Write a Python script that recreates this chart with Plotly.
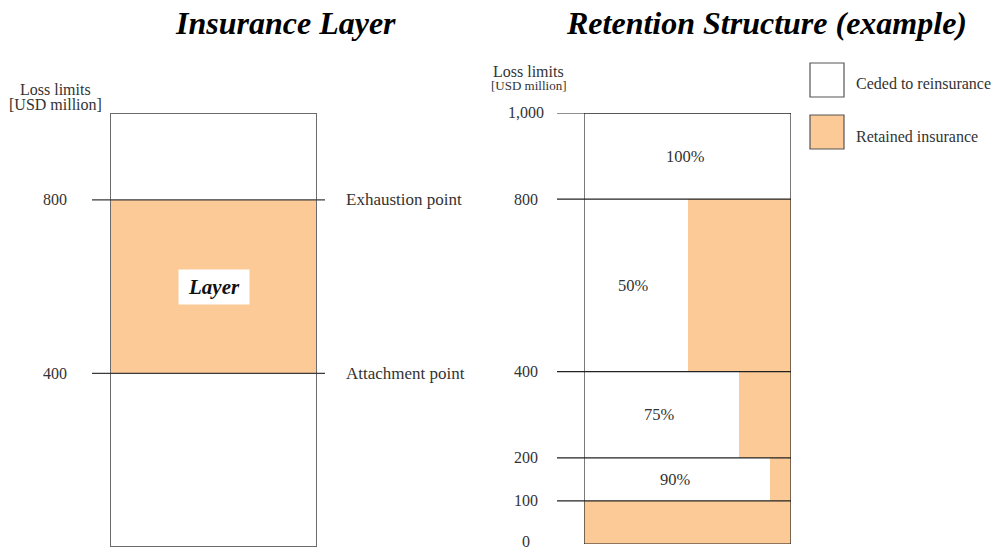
import plotly.graph_objects as go

# ---------------- data ----------------
layer_limits = [0, 1000]            # full range of loss limits (USD million)
layer_attach = 400                  # attachment point
layer_exhaust = 800                 # exhaustion point
left_ticks = [400, 800]
left_tick_text = ["400", "800"]
left_point_labels = ["Attachment point", "Exhaustion point"]

band_low = [0, 100, 200, 400, 800]
band_high = [100, 200, 400, 800, 1000]
ceded_share = [0.0, 0.90, 0.75, 0.50, 1.00]
ceded_labels = ["", "90%", "75%", "50%", "100%"]
right_ticks = [0, 100, 200, 400, 800, 1000]
right_tick_text = ["0", "100", "200", "400", "800", "1,000"]

legend_names = ["Ceded to reinsurance", "Retained insurance"]
titles = ["Insurance Layer", "Retention Structure (example)"]

# ---------------- style ----------------
ORANGE = "#FBCA96"
FONT = "Liberation Serif"
TXT = "#333333"
OFF = 8                      # default page body margin
W, H = 999 - OFF, 548 - OFF

def px(x):
    return (x - OFF) / W

def py(y):
    return 1 - (y - OFF) / H

fig = go.Figure()

# Left panel: layer bar
fig.add_trace(go.Bar(
    x=[0.5], y=[layer_exhaust - layer_attach], base=[layer_attach], width=[1.0],
    marker=dict(color=ORANGE, line=dict(width=0)),
    xaxis="x", yaxis="y", showlegend=False, hoverinfo="skip"))

# Right panel: ceded (white) and retained (orange) per band
mids = [(lo + hi) / 2 for lo, hi in zip(band_low, band_high)]
heights = [hi - lo for lo, hi in zip(band_low, band_high)]
retained = [1 - c for c in ceded_share]
fig.add_trace(go.Bar(
    orientation="h", y=mids, x=ceded_share, base=[0] * len(mids), width=heights,
    marker=dict(color="white", line=dict(width=0)),
    xaxis="x2", yaxis="y2", showlegend=False, hoverinfo="skip"))
fig.add_trace(go.Bar(
    orientation="h", y=mids, x=retained, base=ceded_share, width=heights,
    marker=dict(color=ORANGE, line=dict(width=0)),
    xaxis="x2", yaxis="y2", showlegend=False, hoverinfo="skip"))

shapes = []
annotations = []

def ann(**kw):
    d = dict(showarrow=False, xanchor="center", yanchor="middle")
    d.update(kw)
    annotations.append(d)

# Left panel outline and lines
shapes.append(dict(type="rect", xref="x", yref="y", x0=0, x1=1,
                   y0=layer_limits[0], y1=layer_limits[1],
                   line=dict(color="#6b6b6b", width=2), layer="above"))
for v, t, lab in zip(left_ticks, left_tick_text, left_point_labels):
    shapes.append(dict(type="line", xref="paper", yref="y", x0=px(92), x1=px(325),
                       y0=v, y1=v, line=dict(color="#3a3a3a", width=1.3), layer="above"))
    ann(xref="paper", yref="y", x=px(55), y=v, text=t,
        font=dict(family=FONT, size=16, color=TXT))
    ann(xref="paper", yref="y", x=px(344), y=v, text=lab, xanchor="left",
        font=dict(family=FONT, size=17, color=TXT))

ann(xref="x", yref="y", x=0.5, y=(layer_attach + layer_exhaust) / 2,
    text="<b><i>Layer</i></b>", bgcolor="white", borderpad=4, width=62, height=26,
    font=dict(family=FONT, size=21, color="#111111"))

# Right panel outline and lines
shapes.append(dict(type="rect", xref="x2", yref="y2", x0=0, x1=1,
                   y0=band_low[0], y1=band_high[-1],
                   line=dict(color="#222222", width=1.2), layer="above"))
for v in band_low[1:] + [band_high[-1]]:
    shapes.append(dict(type="line", xref="paper", yref="y2", x0=px(557), x1=px(791),
                       y0=v, y1=v, line=dict(color="#222222", width=1.2), layer="above"))
for v, t in zip(right_ticks, right_tick_text):
    ann(xref="paper", yref="y2", x=px(526), y=v, text=t, yshift=(3 if v == 0 else 0),
        font=dict(family=FONT, size=16, color=TXT))
for m, c, lab in zip(mids, ceded_share, ceded_labels):
    if lab:
        ann(xref="x2", yref="y2", x=c / 2 - 0.01, y=m, text=lab,
            font=dict(family=FONT, size=16.5, color=TXT))

# Axis captions
ann(xref="paper", yref="paper", x=px(55), y=py(89), text="Loss limits",
    font=dict(family=FONT, size=16, color=TXT))
ann(xref="paper", yref="paper", x=px(55), y=py(105), text="[USD million]",
    font=dict(family=FONT, size=16, color=TXT))
ann(xref="paper", yref="paper", x=px(528), y=py(71), text="Loss limits",
    font=dict(family=FONT, size=16, color=TXT))
ann(xref="paper", yref="paper", x=px(528), y=py(86), text="[USD million]",
    font=dict(family=FONT, size=13, color=TXT))

# Titles
ann(xref="paper", yref="paper", x=px(285), y=py(23), text=f"<b><i>{titles[0]}</i></b>",
    font=dict(family=FONT, size=32, color="black"))
ann(xref="paper", yref="paper", x=px(766), y=py(23), text=f"<b><i>{titles[1]}</i></b>",
    font=dict(family=FONT, size=32, color="black"))

# Legend (custom)
leg_fill = ["white", ORANGE]
leg_y = [63, 115]
for name, fill, yt in zip(legend_names, leg_fill, leg_y):
    shapes.append(dict(type="rect", xref="paper", yref="paper",
                       x0=px(810), x1=px(844), y0=py(yt), y1=py(yt + 34),
                       fillcolor=fill, line=dict(color="#555555", width=1.2)))
    ann(xref="paper", yref="paper", x=px(854), y=py(yt + 21), text=name, xanchor="left",
        font=dict(family=FONT, size=16, color=TXT))

hidden = dict(visible=False, showgrid=False, zeroline=False, fixedrange=True)
fig.update_layout(
    width=W, height=H,
    margin=dict(l=0, r=0, t=0, b=0),
    paper_bgcolor="white", plot_bgcolor="rgba(0,0,0,0)",
    barmode="overlay", bargap=0,
    xaxis=dict(hidden, domain=[px(110), px(317)], range=[0, 1]),
    yaxis=dict(hidden, domain=[py(547), py(113)], range=[0, 1000]),
    xaxis2=dict(hidden, domain=[px(584), px(791)], range=[0, 1], anchor="y2"),
    yaxis2=dict(hidden, domain=[py(544), py(113)], range=[0, 1000], anchor="x2"),
    shapes=shapes, annotations=annotations, showlegend=False,
)

fig.write_html("out.html")
